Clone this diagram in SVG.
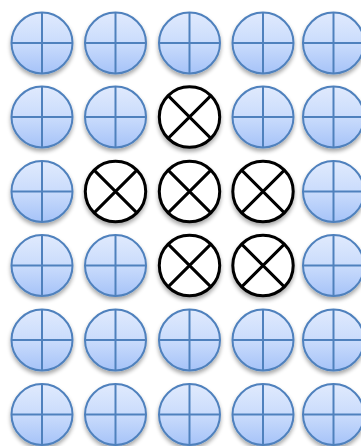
<svg xmlns="http://www.w3.org/2000/svg" xmlns:xlink="http://www.w3.org/1999/xlink" width="361" height="446" viewBox="0 0 361 446">
<style>
.b{fill:url(#g);stroke:#4f81bd;stroke-width:2}
.bl{stroke:#4f81bd;stroke-width:2;fill:none}
.x{fill:#fff;stroke:#000;stroke-width:3}
.xl{stroke:#000;stroke-width:3;fill:none}
</style>
<defs>
<linearGradient id="g" x1="0" y1="0" x2="0" y2="1">
<stop offset="0" stop-color="#e0eafd"/>
<stop offset="0.5" stop-color="#cadcfc"/>
<stop offset="1" stop-color="#a6c3f8"/>
</linearGradient>
<filter id="s" x="-30%" y="-30%" width="160%" height="170%">
<feGaussianBlur in="SourceAlpha" stdDeviation="2"/>
<feOffset dy="3" result="o"/>
<feComponentTransfer><feFuncA type="linear" slope="0.35"/></feComponentTransfer>
<feMerge><feMergeNode/><feMergeNode in="SourceGraphic"/></feMerge>
</filter>
<g id="blue">
<circle class="b" r="30.5" filter="url(#s)"/>
<path class="bl" d="M-30.5 0H30.5M0 -30.5V30.5"/>
</g>
<g id="cross">
<circle class="x" r="30.2" filter="url(#s)"/>
<path class="xl" d="M-21.4 -21.4L21.4 21.4M21.4 -21.4L-21.4 21.4"/>
</g>
</defs>
<g id="r1c1"><use href="#blue" x="42" y="43"/></g>
<g id="r1c2"><use href="#blue" x="115.5" y="43"/></g>
<g id="r1c3"><use href="#blue" x="189.5" y="43"/></g>
<g id="r1c4"><use href="#blue" x="263" y="43"/></g>
<g id="r1c5"><use href="#blue" x="333.5" y="43"/></g>
<g id="r2c1"><use href="#blue" x="42" y="117"/></g>
<g id="r2c2"><use href="#blue" x="115.5" y="117"/></g>
<g id="r2c3"><use href="#cross" x="189.5" y="117"/></g>
<g id="r2c4"><use href="#blue" x="263" y="117"/></g>
<g id="r2c5"><use href="#blue" x="333.5" y="117"/></g>
<g id="r3c1"><use href="#blue" x="42" y="191.5"/></g>
<g id="r3c2"><use href="#cross" x="115.5" y="191.5"/></g>
<g id="r3c3"><use href="#cross" x="189.5" y="191.5"/></g>
<g id="r3c4"><use href="#cross" x="263" y="191.5"/></g>
<g id="r3c5"><use href="#blue" x="333.5" y="191.5"/></g>
<g id="r4c1"><use href="#blue" x="42" y="265.5"/></g>
<g id="r4c2"><use href="#blue" x="115.5" y="265.5"/></g>
<g id="r4c3"><use href="#cross" x="189.5" y="265.5"/></g>
<g id="r4c4"><use href="#cross" x="263" y="265.5"/></g>
<g id="r4c5"><use href="#blue" x="333.5" y="265.5"/></g>
<g id="r5c1"><use href="#blue" x="42" y="340"/></g>
<g id="r5c2"><use href="#blue" x="115.5" y="340"/></g>
<g id="r5c3"><use href="#blue" x="189.5" y="340"/></g>
<g id="r5c4"><use href="#blue" x="263" y="340"/></g>
<g id="r5c5"><use href="#blue" x="333.5" y="340"/></g>
<g id="r6c1"><use href="#blue" x="42" y="414.5"/></g>
<g id="r6c2"><use href="#blue" x="115.5" y="414.5"/></g>
<g id="r6c3"><use href="#blue" x="189.5" y="414.5"/></g>
<g id="r6c4"><use href="#blue" x="263" y="414.5"/></g>
<g id="r6c5"><use href="#blue" x="333.5" y="414.5"/></g>
<g id="connectors"/>
</svg>
